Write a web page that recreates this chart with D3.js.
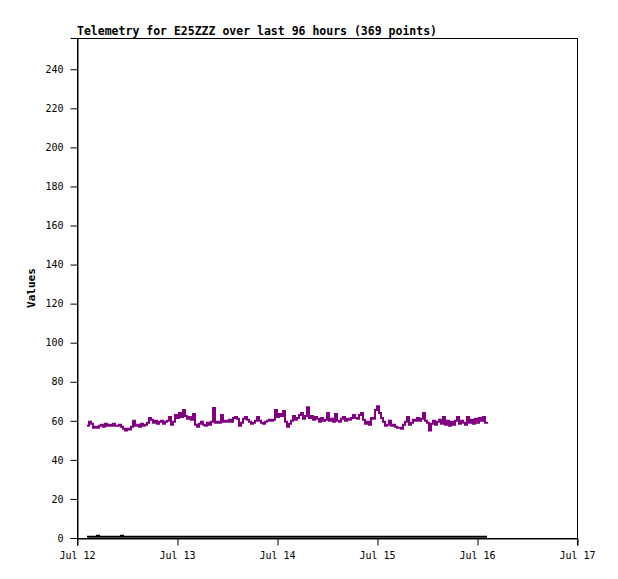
<!DOCTYPE html>
<html>
<head>
<meta charset="utf-8">
<script src="https://cdn.jsdelivr.net/npm/d3@7"></script>
<style>
  html, body { margin: 0; padding: 0; background: #fff; }
  svg { display: block; }
</style>
</head>
<body>
<svg id="chart" width="618" height="579"></svg>
<script>
// ---- data ----
const titleText = "Telemetry for E25ZZZ over last 96 hours (369 points)";
const yLabel = "Values";
const startTime = new Date(2023, 6, 12, 2, 24);
const spanHours = 96;
const xDomain = [new Date(2023, 6, 12), new Date(2023, 6, 17)];
const yDomain = [0, 256];
const yTicks = [0, 20, 40, 60, 80, 100, 120, 140, 160, 180, 200, 220, 240];

const purpleValues = [
  57.5,59.5,58.5,56.5,57,56.5,57.5,58,57,58.5,
  57.5,58,57.5,58.5,57.5,57.5,58,57,56,55,
  56,55.5,57,60,57.5,58,57,58.5,57.5,58,
  59,61.5,60.5,59,60,58.5,59.5,60,58.5,59.5,
  60,62,58,59.5,63,61.5,64,62,65.5,62.5,
  61,62,60.5,63.5,58,57,58.5,59.5,58,57.5,
  59,58,59.5,66.5,59,59.5,59,63,59.5,60,
  59.5,60.5,59.5,61.5,62,61,57.5,59,61,62,
  60.5,59.5,58.5,59,60,62,60,59,58.5,59.5,
  60,60.5,60,60.5,65.5,62,63.5,62.5,65,59.5,
  57,58.5,60,62.5,60.5,61.5,63,64,61,62.5,
  67,61.5,62.5,60.5,62,61,59.5,61.5,60,60.5,
  64,60,61,59.5,63.5,60,59.5,61,62,60,
  61,60.5,61.5,63,61.5,61,63,64,60.5,58.5,
  59.5,58,61.5,61,65.5,67.5,64,61.5,59.5,57.5,
  58,60,57.5,58,57,56.5,56.5,56,58,59.5,
  62,58,59,60.5,60,61.5,60,61,64,60,
  59,55,58.5,60,58,59.5,60.5,58.5,62,58,
  60,57.5,59.5,58,60,62,58.5,60,59,58,
  62,59,60.5,58.5,61,59,61.5,60,62,59,
  59.5
];

const blackValues = [
  0.6,0.6,0.6,0.6,0.6,1.2,0.6,0.6,0.6,0.6,0.6,0.6,0.6,0.6,0.6,0.6,0.6,1.2,0.6,0.6,
  0.6,0.6,0.6,0.6,0.6,0.6,0.6,0.6,0.6,0.6,0.6,0.6,0.6,0.6,0.6,0.6,0.6,0.6,0.6,0.6,
  0.6,0.6,0.6,0.6,0.6,0.6,0.6,0.6,0.6,0.6,0.6,0.6,0.6,0.6,0.6,0.6,0.6,0.6,0.6,0.6,
  0.6,0.6,0.6,0.6,0.6,0.6,0.6,0.6,0.6,0.6,0.6,0.6,0.6,0.6,0.6,0.6,0.6,0.6,0.6,0.6,
  0.6,0.6,0.6,0.6,0.6,0.6,0.6,0.6,0.6,0.6,0.6,0.6,0.6,0.6,0.6,0.6,0.6,0.6,0.6,0.6,
  0.6,0.6,0.6,0.6,0.6,0.6,0.6,0.6,0.6,0.6,0.6,0.6,0.6,0.6,0.6,0.6,0.6,0.6,0.6,0.6,
  0.6,0.6,0.6,0.6,0.6,0.6,0.6,0.6,0.6,0.6,0.6,0.6,0.6,0.6,0.6,0.6,0.6,0.6,0.6,0.6,
  0.6,0.6,0.6,0.6,0.6,0.6,0.6,0.6,0.6,0.6,0.6,0.6,0.6,0.6,0.6,0.6,0.6,0.6,0.6,0.6,
  0.6,0.6,0.6,0.6,0.6,0.6,0.6,0.6,0.6,0.6,0.6,0.6,0.6,0.6,0.6,0.6,0.6,0.6,0.6,0.6,
  0.6,0.6,0.6,0.6,0.6,0.6,0.6,0.6,0.6,0.6,0.6,0.6,0.6,0.6,0.6,0.6,0.6,0.6,0.6,0.6,
  0.6
];

// ---- layout ----
const margin = { top: 38, left: 77 };
const width = 500, height = 500;
const fontFam = "'DejaVu Sans Mono', 'Liberation Mono', monospace";

const svg = d3.select("#chart");
const g = svg.append("g").attr("transform", `translate(${margin.left},${margin.top})`);

const x = d3.scaleTime().domain(xDomain).range([0, width]);
const y = d3.scaleLinear().domain(yDomain).range([height, 0]);

const stepMs = spanHours * 3600 * 1000 / (purpleValues.length - 1);
const timeAt = i => new Date(startTime.getTime() + i * stepMs);

// frame (top & right)
g.append("rect").attr("x", 0.5).attr("y", 0.5).attr("width", width).attr("height", height)
  .attr("fill", "none").attr("stroke", "#000").attr("stroke-width", 1);

// axes
const yAxis = g.append("g").attr("transform", "translate(0.5,0)")
  .call(d3.axisLeft(y).tickValues(yTicks).tickSize(7).tickPadding(7).tickFormat(d3.format("d")));
const xAxis = g.append("g").attr("transform", `translate(0,${height + 0.5})`)
  .call(d3.axisBottom(x).ticks(d3.timeDay.every(1)).tickSize(7).tickPadding(6)
    .tickFormat(d3.timeFormat("%b %d")));
[yAxis, xAxis].forEach(a => {
  a.selectAll("text").attr("font-family", fontFam).attr("font-size", 10).attr("fill", "#000");
  a.selectAll("line, path").attr("stroke", "#000");
});
xAxis.selectAll(".tick line").attr("transform", "translate(0.5,0)");

// lines
const line = d3.line().x((d, i) => x(timeAt(i))).y(d => y(d)).curve(d3.curveStepAfter);
g.append("path").datum(blackValues).attr("d", line)
  .attr("fill", "none").attr("stroke", "#000").attr("stroke-width", 2);
g.append("path").datum(purpleValues).attr("d", line)
  .attr("fill", "none").attr("stroke", "#800080").attr("stroke-width", 2)
  .attr("stroke-linejoin", "miter");

// title
svg.append("text").attr("x", margin.left).attr("y", 35)
  .attr("font-family", fontFam).attr("font-size", 11.5).attr("font-weight", "bold")
  .text(titleText);

// y label
svg.append("text")
  .attr("transform", `translate(35,${margin.top + height / 2}) rotate(-90)`)
  .attr("text-anchor", "middle")
  .attr("font-family", fontFam).attr("font-size", 11).attr("font-weight", "bold")
  .text(yLabel);
</script>
</body>
</html>
